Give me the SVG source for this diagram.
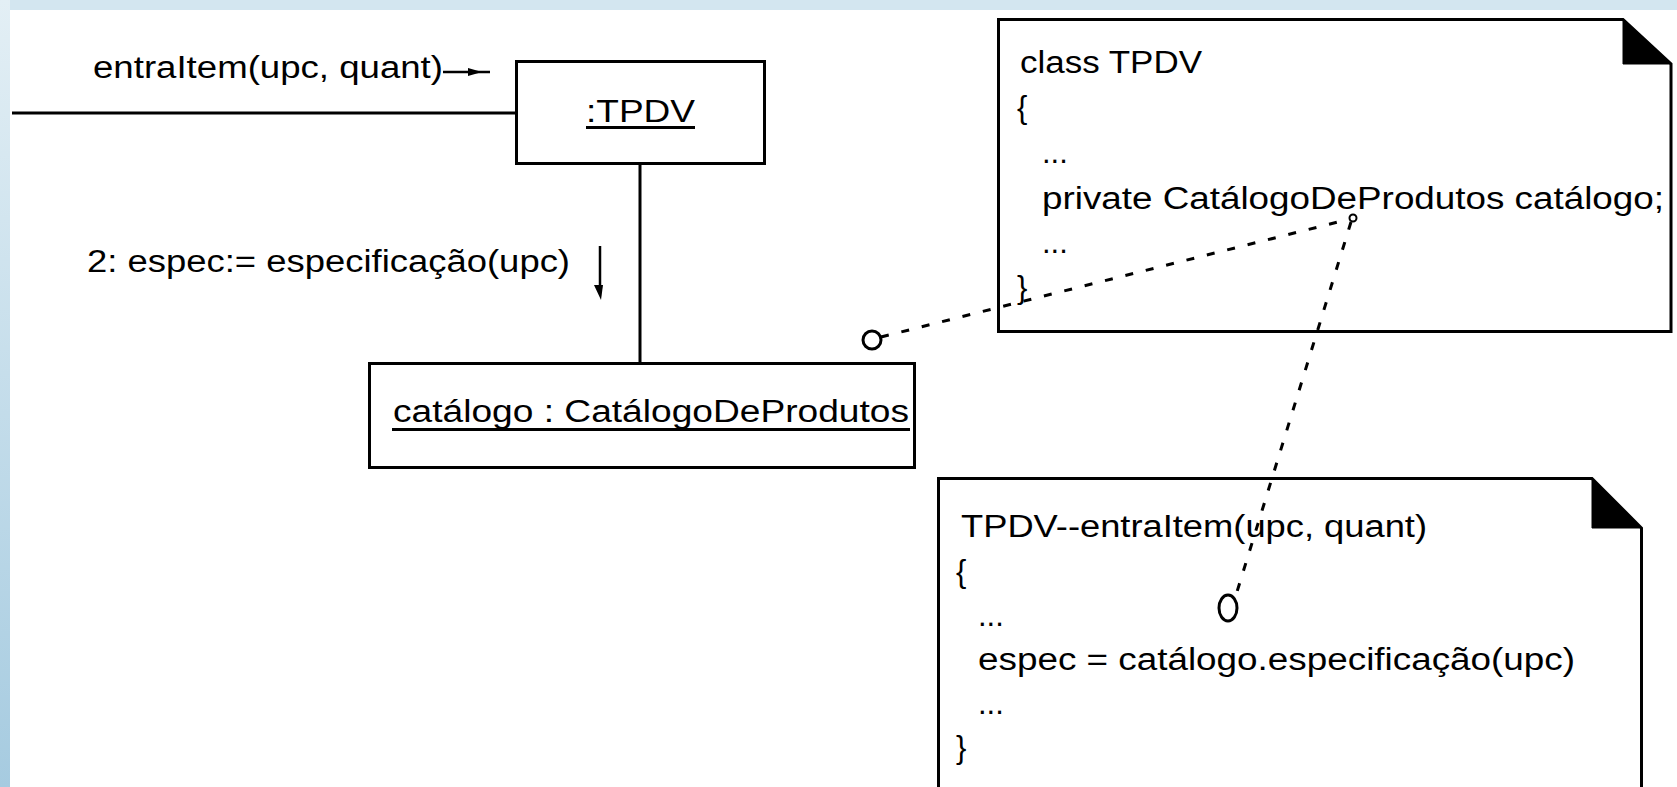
<svg xmlns="http://www.w3.org/2000/svg" width="1677" height="787" viewBox="0 0 1677 787">
  <defs>
    <linearGradient id="edgeLeft" x1="0" y1="0" x2="0" y2="1">
      <stop offset="0" stop-color="#e3eff5"/>
      <stop offset="1" stop-color="#a6cbe0"/>
    </linearGradient>
    <style>
      text { font-family: "Liberation Sans", Arial, sans-serif; font-size: 31px; fill: #000; }
      .box { fill: #fff; stroke: #000; stroke-width: 3; }
      .line { stroke: #000; stroke-width: 3; fill: none; }
      .thin { stroke: #000; stroke-width: 2.5; fill: none; }
      .dash { stroke: #000; stroke-width: 3; fill: none; stroke-dasharray: 8 13; }
      .fold { fill: #000; stroke: #000; stroke-width: 1; }
      .ring { fill: #fff; stroke: #000; stroke-width: 3; }
    </style>
  </defs>

  <!-- page background with the bluish slide border -->
  <rect x="0" y="0" width="1677" height="787" fill="#fff"/>
  <rect x="0" y="0" width="1677" height="10" fill="#d3e6f0"/>
  <rect x="0" y="0" width="10" height="787" fill="url(#edgeLeft)"/>

  <!-- object :TPDV -->
  <g id="tpdv">
    <rect class="box" x="516.5" y="61.5" width="248" height="102"/>
    <text x="586" y="122" textLength="109" lengthAdjust="spacingAndGlyphs">:TPDV</text>
    <line class="line" x1="586" y1="127.5" x2="695" y2="127.5"/>
  </g>

  <!-- object catálogo -->
  <g id="catalogo">
    <rect class="box" x="369.5" y="363.5" width="545" height="104"/>
    <text x="393" y="422" textLength="516" lengthAdjust="spacingAndGlyphs">catálogo : CatálogoDeProdutos</text>
    <line class="line" x1="392" y1="429.5" x2="910" y2="429.5"/>
  </g>

  <!-- message labels -->
  <g id="msg1">
    <text x="93" y="78" textLength="350" lengthAdjust="spacingAndGlyphs">entraItem(upc, quant)</text>
  </g>
  <g id="msg2">
    <text x="87" y="272" textLength="483" lengthAdjust="spacingAndGlyphs">2: espec:= especificação(upc)</text>
  </g>

  <!-- note: class TPDV -->
  <g id="note-class">
    <path class="box" d="M998.5,19.5 H1623 L1671,64 V331.5 H998.5 Z"/>
    <polygon class="fold" points="1623,19.5 1623,64 1671,64"/>
    <text x="1020" y="73" textLength="182" lengthAdjust="spacingAndGlyphs">class TPDV</text>
    <text x="1017" y="118">{</text>
    <text x="1042" y="163">...</text>
    <text x="1042" y="209" textLength="622" lengthAdjust="spacingAndGlyphs">private CatálogoDeProdutos catálogo;</text>
    <text x="1042" y="253">...</text>
    <text x="1017" y="298">}</text>
  </g>

  <!-- note: method body -->
  <g id="note-method">
    <path class="box" d="M938.5,800 V478.5 H1592 L1641.5,528 V800"/>
    <polygon class="fold" points="1592,478.5 1592,528 1641.5,528"/>
    <text x="961" y="537" textLength="466" lengthAdjust="spacingAndGlyphs">TPDV--entraItem(upc, quant)</text>
    <text x="956" y="582">{</text>
    <text x="978" y="626">...</text>
    <text x="978" y="670" textLength="597" lengthAdjust="spacingAndGlyphs">espec = catálogo.especificação(upc)</text>
    <text x="978" y="714">...</text>
    <text x="956" y="758">}</text>
  </g>

  <!-- connectors -->
  <g id="connectors">
    <!-- incoming message link -->
    <line class="line" x1="12" y1="113" x2="516" y2="113"/>
    <!-- link between the two objects -->
    <line class="line" x1="640" y1="164" x2="640" y2="363"/>
    <!-- message 1 arrow -->
    <line class="thin" x1="443" y1="72" x2="490" y2="72"/>
    <polygon points="468,68 482,72 468,76" fill="#000"/>
    <!-- message 2 arrow -->
    <line class="thin" x1="600" y1="246" x2="600" y2="292"/>
    <polygon points="594,285 603,285 601,300" fill="#000"/>
    <!-- note anchors -->
    <line class="dash" x1="881" y1="337" x2="1350" y2="219"/>
    <circle class="ring" cx="872" cy="340" r="9"/>
    <line class="dash" x1="1351" y1="222" x2="1236" y2="595"/>
    <circle cx="1353" cy="218" r="3.5" fill="#fff" stroke="#000" stroke-width="2"/>
    <ellipse class="ring" cx="1228" cy="608" rx="9" ry="13"/>
  </g>
</svg>
